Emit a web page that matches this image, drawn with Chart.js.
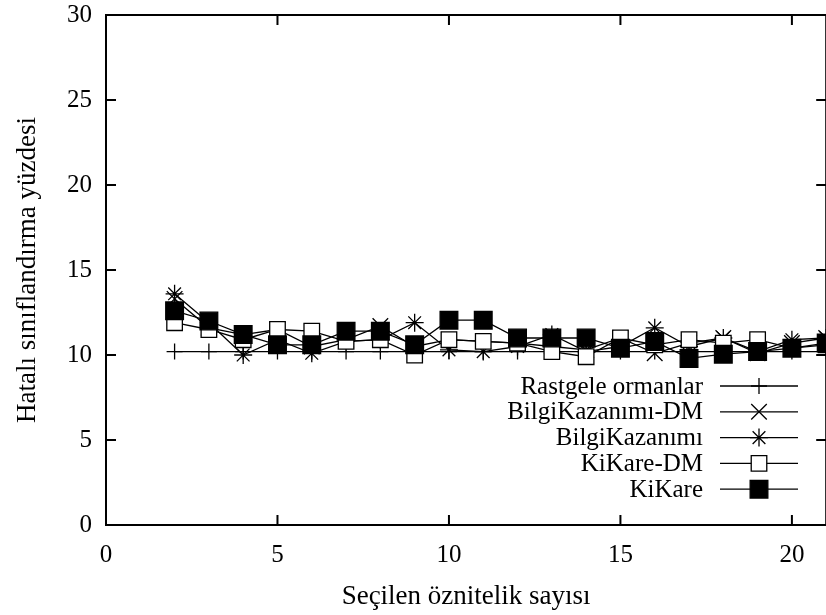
<!DOCTYPE html>
<html>
<head>
<meta charset="utf-8">
<script src="https://cdn.jsdelivr.net/npm/chart.js"></script>
<style>
  html, body { margin: 0; padding: 0; background: #fff; overflow: hidden; }
  #wrap { width: 840px; height: 615px; }
</style>
</head>
<body>
<div id="wrap"><canvas id="chart" width="840" height="615"></canvas></div>
<script>
// number of selected attributes
const featureCounts = [2, 3, 4, 5, 6, 7, 8, 9, 10, 11, 12, 13, 14, 15, 16, 17, 18, 19, 20, 21];

// error percentages
const rastgeleOrmanlar = [10.2, 10.2, 10.2, 10.2, 10.2, 10.2, 10.2, 10.2, 10.2, 10.2, 10.2, 10.2, 10.2, 10.2, 10.2, 10.2, 10.2, 10.2, 10.2, 10.2];
const bilgiKazanimiDM = [13.3, 11.6, 11.2, 11.5, 10.5, 10.9, 11.7, 10.5, 10.9, 10.8, 10.7, 10.5, 10.3, 11.0, 10.1, 10.7, 11.0, 10.1, 10.7, 11.0];
const bilgiKazanimi = [13.6, 11.9, 10.0, 10.9, 10.1, 10.8, 10.9, 11.9, 10.3, 10.2, 10.5, 11.2, 10.2, 10.5, 11.6, 10.5, 11.0, 10.2, 10.9, 11.0];
const kiKareDM = [11.9, 11.5, 10.9, 11.5, 11.4, 10.8, 10.9, 10.0, 10.9, 10.8, 10.7, 10.2, 9.9, 11.0, 10.6, 10.9, 10.7, 10.9, 10.4, 10.6];
const kiKare = [12.6, 12.0, 11.2, 10.6, 10.6, 11.4, 11.4, 10.6, 12.05, 12.05, 11.0, 11.0, 11.0, 10.4, 10.8, 9.8, 10.05, 10.2, 10.4, 10.7];

const seriesLabels = ["Rastgele ormanlar", "BilgiKazanımı-DM", "BilgiKazanımı", "KiKare-DM", "KiKare"];
const xTickValues = [0, 5, 10, 15, 20];
const yTickValues = [0, 5, 10, 15, 20, 25, 30];

const FONT = "'Liberation Serif', 'Times New Roman', serif";
const FONT_SIZE = 25;
const TITLE_SIZE = 27;

function toPoints(values) {
  return featureCounts.map((x, i) => ({ x: x, y: values[i] }));
}

function makeDataset(label, values, style, radius, fill, order) {
  return {
    label: label,
    data: toPoints(values),
    borderColor: "#000",
    borderWidth: 1.3,
    pointStyle: style,
    pointRadius: radius,
    pointHoverRadius: radius,
    pointBorderColor: "#000",
    pointBorderWidth: 1.3,
    pointBackgroundColor: fill,
    fill: false,
    tension: 0,
    order: order,
  };
}

const datasets = [
  makeDataset(seriesLabels[0], rastgeleOrmanlar, "cross", 8, "#000", 4),
  makeDataset(seriesLabels[1], bilgiKazanimiDM, "crossRot", 11, "#000", 3),
  makeDataset(seriesLabels[2], bilgiKazanimi, "star", 9, "#000", 2),
  makeDataset(seriesLabels[3], kiKareDM, "rect", 11, "#fff", 1),
  makeDataset(seriesLabels[4], kiKare, "rect", 12.5, "#000", 0),
];

function drawMarker(ctx, style, x, y, r, fill) {
  ctx.beginPath();
  if (style === "cross") {
    ctx.moveTo(x - r, y); ctx.lineTo(x + r, y);
    ctx.moveTo(x, y - r); ctx.lineTo(x, y + r);
    ctx.stroke();
  } else if (style === "crossRot") {
    const d = r * Math.SQRT1_2;
    ctx.moveTo(x - d, y - d); ctx.lineTo(x + d, y + d);
    ctx.moveTo(x - d, y + d); ctx.lineTo(x + d, y - d);
    ctx.stroke();
  } else if (style === "star") {
    const d = r * Math.SQRT1_2;
    ctx.moveTo(x - r, y); ctx.lineTo(x + r, y);
    ctx.moveTo(x, y - r); ctx.lineTo(x, y + r);
    ctx.moveTo(x - d, y - d); ctx.lineTo(x + d, y + d);
    ctx.moveTo(x - d, y + d); ctx.lineTo(x + d, y - d);
    ctx.stroke();
  } else if (style === "rect") {
    const s = r * Math.SQRT1_2;
    ctx.rect(x - s, y - s, 2 * s, 2 * s);
    ctx.fillStyle = fill;
    ctx.fill();
    ctx.stroke();
  }
}

// gnuplot style frame: border on all four sides, ticks pointing inwards
const framePlugin = {
  id: "frame",
  afterDatasetsDraw(chart) {
    const { ctx, chartArea: a, scales } = chart;
    const len = 10;
    ctx.save();
    ctx.strokeStyle = "#000";
    ctx.lineWidth = 2;
    ctx.beginPath();
    xTickValues.forEach((v) => {
      const px = scales.x.getPixelForValue(v);
      ctx.moveTo(px, a.bottom); ctx.lineTo(px, a.bottom - len);
      ctx.moveTo(px, a.top); ctx.lineTo(px, a.top + len);
    });
    yTickValues.forEach((v) => {
      const py = scales.y.getPixelForValue(v);
      ctx.moveTo(a.left, py); ctx.lineTo(a.left + len, py);
      ctx.moveTo(a.right, py); ctx.lineTo(a.right - len, py);
    });
    ctx.stroke();
    ctx.strokeRect(a.left, a.top, a.right - a.left, a.bottom - a.top);
    ctx.restore();
  },
};

// legend inside the plot, text right aligned, sample line on the right
const keyPlugin = {
  id: "key",
  afterDatasetsDraw(chart) {
    const { ctx } = chart;
    const textRight = 703;
    const lineLeft = 720;
    const lineRight = 798;
    const top = 386;
    const step = 25.8;
    ctx.save();
    ctx.font = FONT_SIZE + "px " + FONT;
    ctx.textAlign = "right";
    ctx.textBaseline = "middle";
    ctx.strokeStyle = "#000";
    ctx.lineWidth = 1.3;
    chart.data.datasets.forEach((ds, i) => {
      const y = top + i * step;
      ctx.fillStyle = "#000";
      ctx.fillText(ds.label, textRight, y + 1);
      ctx.beginPath();
      ctx.moveTo(lineLeft, y);
      ctx.lineTo(lineRight, y);
      ctx.stroke();
      drawMarker(ctx, ds.pointStyle, (lineLeft + lineRight) / 2, y, ds.pointRadius, ds.pointBackgroundColor);
    });
    ctx.restore();
  },
};

new Chart(document.getElementById("chart"), {
  type: "line",
  data: { datasets: datasets },
  options: {
    responsive: false,
    animation: false,
    layout: { padding: { top: 15, right: 12, left: 0, bottom: 0 } },
    plugins: {
      legend: { display: false },
      tooltip: { enabled: false },
    },
    scales: {
      x: {
        type: "linear",
        min: 0,
        max: 21,
        grid: { display: false, drawTicks: false },
        border: { display: false },
        afterBuildTicks: (scale) => {
          scale.ticks = xTickValues.map((v) => ({ value: v }));
        },
        afterFit: (scale) => {
          scale.height = 90;
          scale.paddingLeft = 0;
          scale.paddingRight = 0;
        },
        ticks: {
          color: "#000",
          padding: 15,
          maxRotation: 0,
          autoSkip: false,
          font: { family: FONT, size: FONT_SIZE },
        },
        title: {
          display: true,
          text: "Seçilen öznitelik sayısı",
          color: "#000",
          padding: { top: 10, bottom: 2 },
          font: { family: FONT, size: TITLE_SIZE },
        },
      },
      y: {
        type: "linear",
        min: 0,
        max: 30,
        grid: { display: false, drawTicks: false },
        border: { display: false },
        afterBuildTicks: (scale) => {
          scale.ticks = yTickValues.map((v) => ({ value: v }));
        },
        afterFit: (scale) => {
          scale.width = 106;
          scale.paddingTop = 0;
          scale.paddingBottom = 0;
        },
        ticks: {
          color: "#000",
          padding: 14,
          font: { family: FONT, size: FONT_SIZE },
        },
        title: {
          display: true,
          text: "Hatalı sınıflandırma yüzdesi",
          color: "#000",
          padding: { top: 12, bottom: 6 },
          font: { family: FONT, size: TITLE_SIZE },
        },
      },
    },
  },
  plugins: [framePlugin, keyPlugin],
});
</script>
</body>
</html>
